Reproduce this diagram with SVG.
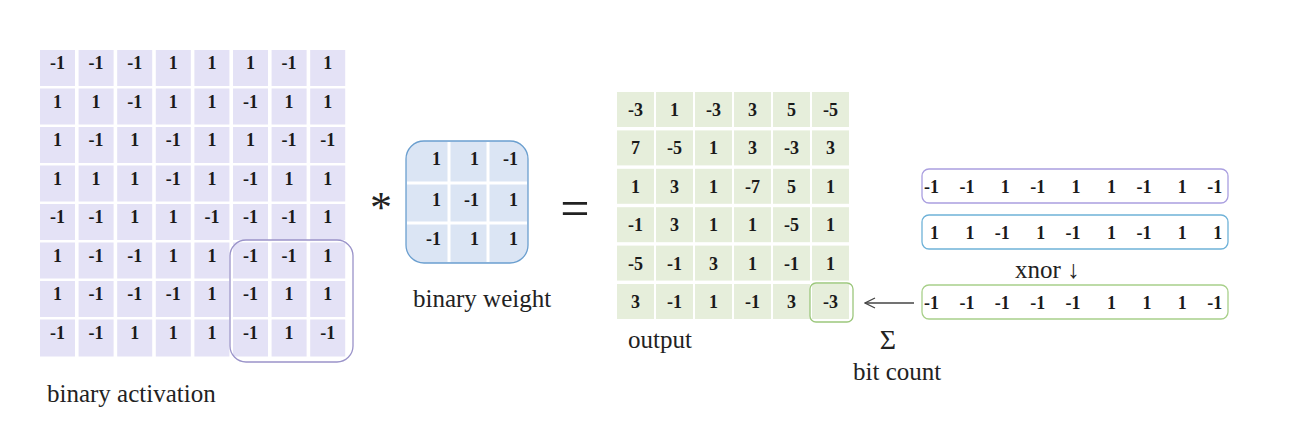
<svg xmlns="http://www.w3.org/2000/svg" width="1312" height="422" viewBox="0 0 1312 422">
<defs>
<style>
.ac{fill:#e4e2f6}
.oc{fill:#e6eedb}
.n{font-family:"Liberation Serif",serif;font-weight:bold;font-size:18px;fill:#1a1a1a;text-anchor:middle}
.nr{font-family:"Liberation Serif",serif;font-weight:bold;font-size:18px;fill:#1a1a1a;text-anchor:end}
.lbl{font-family:"Liberation Serif",serif;font-size:25px;fill:#222}
</style>
<marker id="ah" viewBox="0 0 12 12" refX="11" refY="6" markerWidth="12" markerHeight="12" markerUnits="userSpaceOnUse" orient="auto">
<path d="M1,1 L11,6 L1,11" fill="none" stroke="#444" stroke-width="1.3"/>
</marker>
</defs>
<rect width="1312" height="422" fill="#ffffff"/>

<g id="activation">
<g>
<rect class="ac" x="40" y="50" width="35" height="36"/><rect class="ac" x="78.6" y="50" width="35" height="36"/><rect class="ac" x="117.2" y="50" width="35" height="36"/><rect class="ac" x="155.8" y="50" width="35" height="36"/><rect class="ac" x="194.4" y="50" width="35" height="36"/><rect class="ac" x="233" y="50" width="35" height="36"/><rect class="ac" x="271.6" y="50" width="35" height="36"/><rect class="ac" x="310.2" y="50" width="35" height="36"/>
<rect class="ac" x="40" y="88.5" width="35" height="36"/><rect class="ac" x="78.6" y="88.5" width="35" height="36"/><rect class="ac" x="117.2" y="88.5" width="35" height="36"/><rect class="ac" x="155.8" y="88.5" width="35" height="36"/><rect class="ac" x="194.4" y="88.5" width="35" height="36"/><rect class="ac" x="233" y="88.5" width="35" height="36"/><rect class="ac" x="271.6" y="88.5" width="35" height="36"/><rect class="ac" x="310.2" y="88.5" width="35" height="36"/>
<rect class="ac" x="40" y="127" width="35" height="36"/><rect class="ac" x="78.6" y="127" width="35" height="36"/><rect class="ac" x="117.2" y="127" width="35" height="36"/><rect class="ac" x="155.8" y="127" width="35" height="36"/><rect class="ac" x="194.4" y="127" width="35" height="36"/><rect class="ac" x="233" y="127" width="35" height="36"/><rect class="ac" x="271.6" y="127" width="35" height="36"/><rect class="ac" x="310.2" y="127" width="35" height="36"/>
<rect class="ac" x="40" y="165.5" width="35" height="36"/><rect class="ac" x="78.6" y="165.5" width="35" height="36"/><rect class="ac" x="117.2" y="165.5" width="35" height="36"/><rect class="ac" x="155.8" y="165.5" width="35" height="36"/><rect class="ac" x="194.4" y="165.5" width="35" height="36"/><rect class="ac" x="233" y="165.5" width="35" height="36"/><rect class="ac" x="271.6" y="165.5" width="35" height="36"/><rect class="ac" x="310.2" y="165.5" width="35" height="36"/>
<rect class="ac" x="40" y="204" width="35" height="36"/><rect class="ac" x="78.6" y="204" width="35" height="36"/><rect class="ac" x="117.2" y="204" width="35" height="36"/><rect class="ac" x="155.8" y="204" width="35" height="36"/><rect class="ac" x="194.4" y="204" width="35" height="36"/><rect class="ac" x="233" y="204" width="35" height="36"/><rect class="ac" x="271.6" y="204" width="35" height="36"/><rect class="ac" x="310.2" y="204" width="35" height="36"/>
<rect class="ac" x="40" y="242.5" width="35" height="36"/><rect class="ac" x="78.6" y="242.5" width="35" height="36"/><rect class="ac" x="117.2" y="242.5" width="35" height="36"/><rect class="ac" x="155.8" y="242.5" width="35" height="36"/><rect class="ac" x="194.4" y="242.5" width="35" height="36"/><rect class="ac" x="233" y="242.5" width="35" height="36"/><rect class="ac" x="271.6" y="242.5" width="35" height="36"/><rect class="ac" x="310.2" y="242.5" width="35" height="36"/>
<rect class="ac" x="40" y="281" width="35" height="36"/><rect class="ac" x="78.6" y="281" width="35" height="36"/><rect class="ac" x="117.2" y="281" width="35" height="36"/><rect class="ac" x="155.8" y="281" width="35" height="36"/><rect class="ac" x="194.4" y="281" width="35" height="36"/><rect class="ac" x="233" y="281" width="35" height="36"/><rect class="ac" x="271.6" y="281" width="35" height="36"/><rect class="ac" x="310.2" y="281" width="35" height="36"/>
<rect class="ac" x="40" y="319.5" width="35" height="37"/><rect class="ac" x="78.6" y="319.5" width="35" height="37"/><rect class="ac" x="117.2" y="319.5" width="35" height="37"/><rect class="ac" x="155.8" y="319.5" width="35" height="37"/><rect class="ac" x="194.4" y="319.5" width="35" height="37"/><rect class="ac" x="233" y="319.5" width="35" height="37"/><rect class="ac" x="271.6" y="319.5" width="35" height="37"/><rect class="ac" x="310.2" y="319.5" width="35" height="37"/>
</g>
<g>
<text class="n" x="57.5" y="69">-1</text><text class="n" x="96.1" y="69">-1</text><text class="n" x="134.7" y="69">-1</text><text class="n" x="173.3" y="69">1</text><text class="n" x="211.9" y="69">1</text><text class="n" x="250.5" y="69">1</text><text class="n" x="289.1" y="69">-1</text><text class="n" x="327.7" y="69">1</text>
<text class="n" x="57.5" y="107.5">1</text><text class="n" x="96.1" y="107.5">1</text><text class="n" x="134.7" y="107.5">-1</text><text class="n" x="173.3" y="107.5">1</text><text class="n" x="211.9" y="107.5">1</text><text class="n" x="250.5" y="107.5">-1</text><text class="n" x="289.1" y="107.5">1</text><text class="n" x="327.7" y="107.5">1</text>
<text class="n" x="57.5" y="146">1</text><text class="n" x="96.1" y="146">-1</text><text class="n" x="134.7" y="146">1</text><text class="n" x="173.3" y="146">-1</text><text class="n" x="211.9" y="146">1</text><text class="n" x="250.5" y="146">1</text><text class="n" x="289.1" y="146">-1</text><text class="n" x="327.7" y="146">-1</text>
<text class="n" x="57.5" y="184.5">1</text><text class="n" x="96.1" y="184.5">1</text><text class="n" x="134.7" y="184.5">1</text><text class="n" x="173.3" y="184.5">-1</text><text class="n" x="211.9" y="184.5">1</text><text class="n" x="250.5" y="184.5">-1</text><text class="n" x="289.1" y="184.5">1</text><text class="n" x="327.7" y="184.5">1</text>
<text class="n" x="57.5" y="223">-1</text><text class="n" x="96.1" y="223">-1</text><text class="n" x="134.7" y="223">1</text><text class="n" x="173.3" y="223">1</text><text class="n" x="211.9" y="223">-1</text><text class="n" x="250.5" y="223">-1</text><text class="n" x="289.1" y="223">-1</text><text class="n" x="327.7" y="223">1</text>
<text class="n" x="57.5" y="261.5">1</text><text class="n" x="96.1" y="261.5">-1</text><text class="n" x="134.7" y="261.5">-1</text><text class="n" x="173.3" y="261.5">1</text><text class="n" x="211.9" y="261.5">1</text><text class="n" x="250.5" y="261.5">-1</text><text class="n" x="289.1" y="261.5">-1</text><text class="n" x="327.7" y="261.5">1</text>
<text class="n" x="57.5" y="300">1</text><text class="n" x="96.1" y="300">-1</text><text class="n" x="134.7" y="300">-1</text><text class="n" x="173.3" y="300">-1</text><text class="n" x="211.9" y="300">1</text><text class="n" x="250.5" y="300">-1</text><text class="n" x="289.1" y="300">1</text><text class="n" x="327.7" y="300">1</text>
<text class="n" x="57.5" y="338.5">-1</text><text class="n" x="96.1" y="338.5">-1</text><text class="n" x="134.7" y="338.5">1</text><text class="n" x="173.3" y="338.5">1</text><text class="n" x="211.9" y="338.5">1</text><text class="n" x="250.5" y="338.5">-1</text><text class="n" x="289.1" y="338.5">1</text><text class="n" x="327.7" y="338.5">-1</text>
</g>
<rect x="230" y="240" width="123" height="122" rx="16" fill="none" stroke="#9a93c9" stroke-width="1.3"/>
<text class="lbl" x="47" y="402" font-size="26">binary activation</text>
</g>

<g id="operator-star"><text x="381" y="222" font-family="Liberation Serif, serif" font-size="44" fill="#222" text-anchor="middle">*</text></g>

<g id="weight">
<rect x="406" y="141" width="122" height="122" rx="18" fill="#dbe5f4"/>
<line x1="449" y1="142" x2="449" y2="262" stroke="#ffffff" stroke-width="3"/>
<line x1="488" y1="142" x2="488" y2="262" stroke="#ffffff" stroke-width="3"/>
<line x1="407" y1="183" x2="527" y2="183" stroke="#ffffff" stroke-width="3"/>
<line x1="407" y1="223" x2="527" y2="223" stroke="#ffffff" stroke-width="3"/>
<rect x="406" y="141" width="122" height="122" rx="18" fill="none" stroke="#6b9fcf" stroke-width="1.3"/>
<text class="nr" x="441" y="165">1</text><text class="nr" x="479" y="165">1</text><text class="nr" x="518" y="165">-1</text>
<text class="nr" x="441" y="206">1</text><text class="nr" x="479" y="206">-1</text><text class="nr" x="518" y="206">1</text>
<text class="nr" x="441" y="245">-1</text><text class="nr" x="479" y="245">1</text><text class="nr" x="518" y="245">1</text>
<text class="lbl" x="413" y="307" font-size="24">binary weight</text>
</g>

<g id="operator-equals"><text x="575" y="226" font-family="Liberation Serif, serif" font-size="52" fill="#222" text-anchor="middle">=</text></g>

<g id="output">
<g>
<rect class="oc" x="617" y="92" width="37" height="35"/><rect class="oc" x="656" y="92" width="37" height="35"/><rect class="oc" x="695" y="92" width="37" height="35"/><rect class="oc" x="734" y="92" width="37" height="35"/><rect class="oc" x="773" y="92" width="37" height="35"/><rect class="oc" x="812" y="92" width="37" height="35"/>
<rect class="oc" x="617" y="130.4" width="37" height="35"/><rect class="oc" x="656" y="130.4" width="37" height="35"/><rect class="oc" x="695" y="130.4" width="37" height="35"/><rect class="oc" x="734" y="130.4" width="37" height="35"/><rect class="oc" x="773" y="130.4" width="37" height="35"/><rect class="oc" x="812" y="130.4" width="37" height="35"/>
<rect class="oc" x="617" y="168.8" width="37" height="35"/><rect class="oc" x="656" y="168.8" width="37" height="35"/><rect class="oc" x="695" y="168.8" width="37" height="35"/><rect class="oc" x="734" y="168.8" width="37" height="35"/><rect class="oc" x="773" y="168.8" width="37" height="35"/><rect class="oc" x="812" y="168.8" width="37" height="35"/>
<rect class="oc" x="617" y="207.2" width="37" height="35"/><rect class="oc" x="656" y="207.2" width="37" height="35"/><rect class="oc" x="695" y="207.2" width="37" height="35"/><rect class="oc" x="734" y="207.2" width="37" height="35"/><rect class="oc" x="773" y="207.2" width="37" height="35"/><rect class="oc" x="812" y="207.2" width="37" height="35"/>
<rect class="oc" x="617" y="245.6" width="37" height="35"/><rect class="oc" x="656" y="245.6" width="37" height="35"/><rect class="oc" x="695" y="245.6" width="37" height="35"/><rect class="oc" x="734" y="245.6" width="37" height="35"/><rect class="oc" x="773" y="245.6" width="37" height="35"/><rect class="oc" x="812" y="245.6" width="37" height="35"/>
<rect class="oc" x="617" y="284" width="37" height="35"/><rect class="oc" x="656" y="284" width="37" height="35"/><rect class="oc" x="695" y="284" width="37" height="35"/><rect class="oc" x="734" y="284" width="37" height="35"/><rect class="oc" x="773" y="284" width="37" height="35"/><rect class="oc" x="812" y="284" width="37" height="35"/>
</g>
<g>
<text class="n" x="635.5" y="116">-3</text><text class="n" x="674.5" y="116">1</text><text class="n" x="713.5" y="116">-3</text><text class="n" x="752.5" y="116">3</text><text class="n" x="791.5" y="116">5</text><text class="n" x="830.5" y="116">-5</text>
<text class="n" x="635.5" y="154.4">7</text><text class="n" x="674.5" y="154.4">-5</text><text class="n" x="713.5" y="154.4">1</text><text class="n" x="752.5" y="154.4">3</text><text class="n" x="791.5" y="154.4">-3</text><text class="n" x="830.5" y="154.4">3</text>
<text class="n" x="635.5" y="192.8">1</text><text class="n" x="674.5" y="192.8">3</text><text class="n" x="713.5" y="192.8">1</text><text class="n" x="752.5" y="192.8">-7</text><text class="n" x="791.5" y="192.8">5</text><text class="n" x="830.5" y="192.8">1</text>
<text class="n" x="635.5" y="231.2">-1</text><text class="n" x="674.5" y="231.2">3</text><text class="n" x="713.5" y="231.2">1</text><text class="n" x="752.5" y="231.2">1</text><text class="n" x="791.5" y="231.2">-5</text><text class="n" x="830.5" y="231.2">1</text>
<text class="n" x="635.5" y="269.6">-5</text><text class="n" x="674.5" y="269.6">-1</text><text class="n" x="713.5" y="269.6">3</text><text class="n" x="752.5" y="269.6">1</text><text class="n" x="791.5" y="269.6">-1</text><text class="n" x="830.5" y="269.6">1</text>
<text class="n" x="635.5" y="308">3</text><text class="n" x="674.5" y="308">-1</text><text class="n" x="713.5" y="308">1</text><text class="n" x="752.5" y="308">-1</text><text class="n" x="791.5" y="308">3</text><text class="n" x="830.5" y="308">-3</text>
</g>
<rect x="810" y="283" width="43" height="39" rx="6" fill="none" stroke="#9cc77c" stroke-width="1.3"/>
<text class="lbl" x="628" y="348">output</text>
</g>

<g id="row-activation">
<rect x="922" y="169" width="306" height="34" rx="7" fill="#ffffff" stroke="#aa9fe0" stroke-width="1.3"/>
<text class="nr" x="939" y="193">-1</text><text class="nr" x="974.4" y="193">-1</text><text class="nr" x="1009.8" y="193">1</text><text class="nr" x="1045.2" y="193">-1</text><text class="nr" x="1080.6" y="193">1</text><text class="nr" x="1116" y="193">1</text><text class="nr" x="1151.4" y="193">-1</text><text class="nr" x="1186.8" y="193">1</text><text class="nr" x="1222.2" y="193">-1</text>
</g>
<g id="row-weight">
<rect x="922" y="215" width="306" height="34" rx="7" fill="#ffffff" stroke="#6fb2d8" stroke-width="1.3"/>
<text class="nr" x="939" y="239">1</text><text class="nr" x="974.4" y="239">1</text><text class="nr" x="1009.8" y="239">-1</text><text class="nr" x="1045.2" y="239">1</text><text class="nr" x="1080.6" y="239">-1</text><text class="nr" x="1116" y="239">1</text><text class="nr" x="1151.4" y="239">-1</text><text class="nr" x="1186.8" y="239">1</text><text class="nr" x="1222.2" y="239">1</text>
</g>
<g id="xnor-label"><text class="lbl" x="1015" y="278">xnor ↓</text></g>
<g id="row-xnor">
<rect x="922" y="285" width="306" height="34" rx="7" fill="#ffffff" stroke="#a8d08a" stroke-width="1.3"/>
<text class="nr" x="939" y="309">-1</text><text class="nr" x="974.4" y="309">-1</text><text class="nr" x="1009.8" y="309">-1</text><text class="nr" x="1045.2" y="309">-1</text><text class="nr" x="1080.6" y="309">-1</text><text class="nr" x="1116" y="309">1</text><text class="nr" x="1151.4" y="309">1</text><text class="nr" x="1186.8" y="309">1</text><text class="nr" x="1222.2" y="309">-1</text>
</g>

<g id="connectors">
<line x1="914" y1="303" x2="865" y2="303" stroke="#444" stroke-width="1.3" marker-end="url(#ah)"/>
</g>
<g id="bitcount-label">
<text x="888" y="349" font-family="Liberation Serif, serif" font-size="28" fill="#222" text-anchor="middle">Σ</text>
<text class="lbl" x="853" y="380">bit count</text>
</g>
</svg>
